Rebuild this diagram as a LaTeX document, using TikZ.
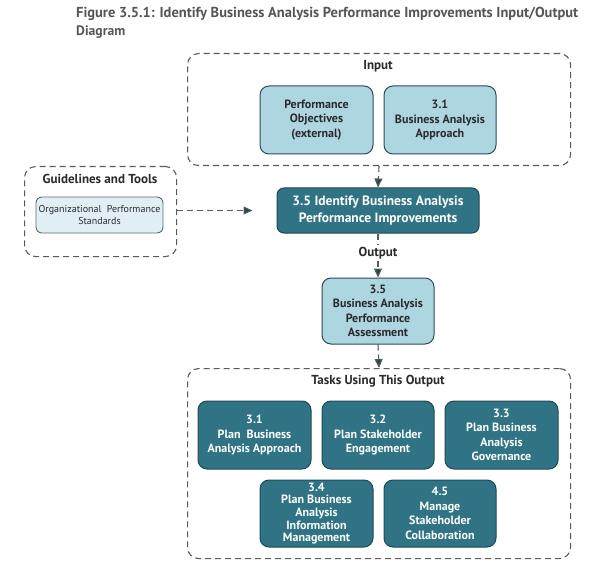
\documentclass[tikz,border=0pt]{standalone}
\usepackage{fontspec}
\setmainfont{PT Sans}
\usetikzlibrary{arrows.meta}
\definecolor{darkteal}{HTML}{2F7385}
\definecolor{darkborder}{HTML}{1D4A57}
\definecolor{lightblue}{HTML}{AED6E1}
\definecolor{lightborder}{HTML}{2B4C58}
\definecolor{palefill}{HTML}{E1EFF4}
\definecolor{paleborder}{HTML}{556A72}
\definecolor{dashgray}{HTML}{5A5A5A}
\definecolor{titlegray}{HTML}{555555}
\definecolor{labelink}{HTML}{2A2A2A}
\begin{document}
\begin{tikzpicture}[x=1pt,y=-1pt,
  groupbox/.style={draw=dashgray,line width=1.1pt,dash pattern=on 6pt off 4pt,rounded corners=11pt},
  lightbox/.style={draw=lightborder,line width=1pt,fill=lightblue,rounded corners=9pt,align=center,
     text=labelink,font=\fontsize{12}{14.5}\selectfont\bfseries,inner sep=0pt},
  darkbox/.style={draw=darkborder,line width=1pt,fill=darkteal,rounded corners=9pt,align=center,
     text=white,font=\fontsize{12}{14.5}\selectfont\bfseries,inner sep=0pt},
  mainbox/.style={draw=darkborder,line width=1pt,fill=darkteal,rounded corners=7pt,align=center,
     text=white,font=\fontsize{13.5}{17}\selectfont\bfseries,inner sep=0pt},
  palebox/.style={draw=paleborder,line width=0.9pt,fill=palefill,rounded corners=6pt,align=center,
     text=labelink,font=\fontsize{10}{13}\selectfont,inner sep=0pt},
  grouptitle/.style={text=labelink,font=\fontsize{13}{15}\selectfont\bfseries},
  dashline/.style={draw=dashgray,line width=1.1pt,dash pattern=on 6pt off 4pt},
  flow/.style={dashline,-{Triangle[length=9pt,width=8pt,fill=darkborder]},color=dashgray},
  titletext/.style={anchor=west,text=titlegray,inner sep=0pt}
]
\useasboundingbox (0,0) rectangle (600,567);

% title
\node[titletext] (title1) at (76,14)
  {\resizebox{502pt}{!}{\bfseries Figure 3.5.1: Identify Business Analysis Performance Improvements Input/Output}};
\node[titletext] (title2) at (76,32)
  {\resizebox{!}{9.7pt}{\bfseries Diagram}};

% Input group
\node[groupbox,minimum width=383pt,minimum height=112pt,anchor=north west] (inputgrp) at (187,53) {};
\node[grouptitle] (inputlbl) at (378,66) {Input};
\node[lightbox,minimum width=113pt,minimum height=68pt] (perfobj) at (316.5,120) {Performance\\Objectives\\(external)};
\node[lightbox,minimum width=112pt,minimum height=68pt] (baapp) at (440,120) {3.1\\Business Analysis\\Approach};

% Guidelines group
\node[groupbox,minimum width=152pt,minimum height=90pt,anchor=north west] (guidegrp) at (24,166) {};
\node[grouptitle] (guidelbl) at (100,179) {Guidelines and Tools};
\node[palebox,minimum width=127pt,minimum height=36pt] (ops) at (99.5,215) {Organizational\ \ Performance\\Standards};

% main task
\node[mainbox,minimum width=202pt,minimum height=45pt] (main) at (378,210.5) {3.5 Identify Business Analysis\\Performance Improvements};

% output
\node[grouptitle,inner sep=2pt] (outlbl) at (378,253) {Output};
\node[lightbox,minimum width=112pt,minimum height=66pt] (assess) at (378,311) {3.5\\Business Analysis\\Performance\\Assessment};

% Tasks group
\node[groupbox,minimum width=383pt,minimum height=190pt,anchor=north west] (tasksgrp) at (187,368) {};
\node[grouptitle] (taskslbl) at (378,381) {Tasks Using This Output};
\node[darkbox,minimum width=113pt,minimum height=68pt] (t31) at (254.5,435) {3.1\\Plan\ \ Business\\Analysis Approach};
\node[darkbox,minimum width=112pt,minimum height=68pt] (t32) at (378,435) {3.2\\Plan Stakeholder\\Engagement};
\node[darkbox,minimum width=113pt,minimum height=68pt] (t33) at (501.5,435) {3.3\\Plan Business\\Analysis\\Governance};
\node[darkbox,minimum width=113pt,minimum height=67pt,font=\fontsize{12}{12.6}\selectfont\bfseries] (t34) at (316.5,513.5) {3.4\\Plan Business\\Analysis\\Information\\Management};
\node[darkbox,minimum width=112pt,minimum height=67pt] (t45) at (440,513.5) {4.5\\Manage\\Stakeholder\\Collaboration};

% connectors
\draw[flow] (inputgrp.south) -- (main.north);
\draw[flow,shorten >=24pt] (guidegrp.east |- main.west) -- (main.west);
\draw[dashline] (main.south) -- (outlbl.north);
\draw[flow] (outlbl.south) -- (assess.north);
\draw[flow] (assess.south) -- (tasksgrp.north);
\end{tikzpicture}
\end{document}
